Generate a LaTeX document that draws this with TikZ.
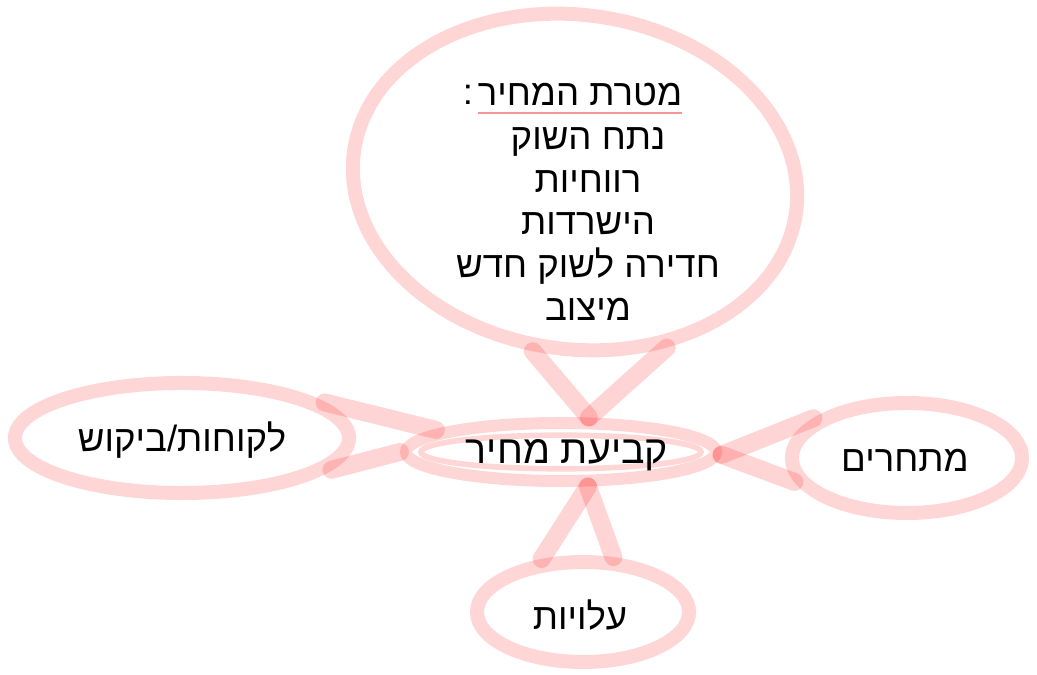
\documentclass[tikz,border=0pt]{standalone}
\usepackage{fontspec}
\newfontfamily\hebfont[Script=Hebrew]{Liberation Sans}
\TeXXeTstate=1
\usetikzlibrary{shapes.geometric}
\definecolor{underpink}{RGB}{245,150,150}
\def\heb#1{{\hebfont\beginR #1\endR}}
\tikzset{
  bubble/.style={ellipse, draw=red, draw opacity=0.16, line width=0.35cm, inner sep=0pt},
  link/.style={draw=red, draw opacity=0.17, line width=0.45cm, line cap=round},
  inkline/.style={font=\hebfont\fontsize{26}{30.5}\selectfont, align=center, inner sep=0pt}
}

\begin{document}
\begin{tikzpicture}[x=0.025cm, y=0.025cm]
			%%%%% START %%%%%
			\useasboundingbox (0, 0) rectangle (1037, 675);
			
			% bubbles
			\node[bubble, rotate=-8, minimum width=11.15cm, minimum height=8.35cm] (goal) at (575, 493) {};
			\node[bubble, line width=0.3cm, minimum width=7.75cm, minimum height=1.45cm] (price) at (561, 223) {};
			\draw[red, opacity=0.16, line width=0.14cm] (price.center) ellipse (3.5cm and 0.42cm);
			\node[bubble, minimum width=8.35cm, minimum height=2.75cm] (customer) at (182, 237) {};
			\node[bubble, minimum width=5.75cm, minimum height=2.75cm] (rivals) at (907, 217) {};
			\node[bubble, minimum width=5.3cm, minimum height=2.5cm] (cost) at (583, 63) {};
			
			% texts
			\node[inkline, label={[inkline, xshift=-3pt]west::}] (goalhead) at (580, 580) {\heb{מטרת המחיר}};
			\draw[underpink, line width=1.3pt] ([yshift=-5pt]goalhead.base west) -- ([yshift=-5pt]goalhead.base east);
			\node[inkline] (goallist) at (588, 451) {\heb{נתח השוק}\\ \heb{רווחיות}\\ \heb{הישרדות}\\ \heb{חדירה לשוק חדש}\\ \heb{מיצוב}};
			\node[inkline, font=\hebfont\fontsize{28}{30.5}\selectfont] (pricetext) at (567, 220) {\heb{קביעת מחיר}};
			\node[inkline] (customertext) at (182, 235) {\heb{לקוחות/ביקוש}};
			\node[inkline] (rivalstext) at (905, 215) {\heb{מתחרים}};
			\node[inkline] (costtext) at (580, 60) {\heb{עלויות}};
			
			% links
			\draw[link] (goal.-96) -- (price.51);
			\draw[link] (goal.-53) -- (price.51);
			\draw[link] (customer.14) -- (price.170);
			\draw[link] (customer.-12) -- (price.180);
			\draw[link] (rivals.157) -- (price.-1);
			\draw[link] (rivals.192) -- (price.-1);
			\draw[link] (cost.128) -- (price.-52);
			\draw[link] (cost.61) -- (price.-52);
			
			%%%%% END %%%%%
\end{tikzpicture}
\end{document}
